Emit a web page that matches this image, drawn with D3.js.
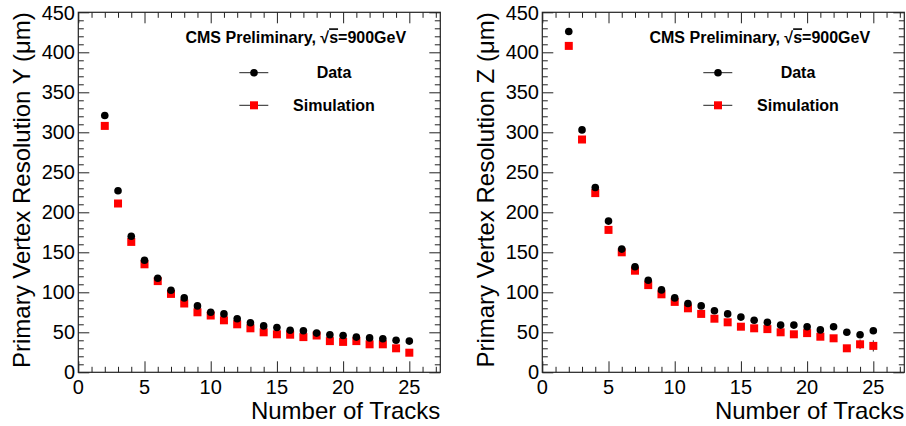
<!DOCTYPE html>
<html>
<head>
<meta charset="utf-8">
<script src="https://cdn.jsdelivr.net/npm/d3@7/dist/d3.min.js"></script>
<style>
  html, body { margin: 0; padding: 0; background: #fff; }
  svg { display: block; }
  text { font-family: "Liberation Sans", Arial, Helvetica, sans-serif; fill: #000; }
</style>
</head>
<body>
<svg id="chart" width="906" height="426"></svg>
<script>
// ---- data ----
const nTracks = [2,3,4,5,6,7,8,9,10,11,12,13,14,15,16,17,18,19,20,21,22,23,24,25];

const resYData = [321,227,170,140,117.5,102.5,93,83,75,73,67,62,58,56,52.5,52,49,47,46,44,43,42,40,39];
const resYSim  = [308,211,163,135,114,98,86,75,71,65,60,55,50,47.5,47,44,46,39,38,39,35,35,30,24.5];
const resYDataErr = [3,2,2,1,1,1,1,1,1,1,1,1,1,1,1,1,1,1,1,1,1,1,2,2];
const resYSimErr  = [2,2,1,1,1,1,1,1,1,1,1,1,1,1,1,1,1,1,1,1,1,2,2,3];

const resZData = [426,303,231,189,154,132,115,103,93,86,83,77,73,69,65,62.5,59,59,57,53,57,50,47,52];
const resZSim  = [408,291,224,178,150,127,109,97.5,88,80,73,67,62.5,57,55,54,50,47.5,49,44.5,42.5,30,35,33];
const resZDataErr = [3,2,2,1,1,1,1,1,1,1,1,1,1,1,1,1,1,1,1,2,2,2,3,3];
const resZSimErr  = [2,2,1,1,1,1,1,1,1,1,1,1,1,1,1,1,1,1,2,2,2,3,6,7];

const xMajorTicks = [0,5,10,15,20,25];
const yMajorTicks = [0,50,100,150,200,250,300,350,400,450];
const xTitle = "Number of Tracks";
const yTitles = ["Primary Vertex Resolution Y (\u03bcm)", "Primary Vertex Resolution Z (\u03bcm)"];
const legendLabels = ["Data", "Simulation"];

// ---- drawing ----
const svg = d3.select("#chart");
const frameW = 362, frameH = 360, frameTop = 12.3;
const panels = [
  {left: 78.3,  data: resYData, sim: resYSim, dErr: resYDataErr, sErr: resYSimErr, title: yTitles[0]},
  {left: 542.3, data: resZData, sim: resZSim, dErr: resZDataErr, sErr: resZSimErr, title: yTitles[1]}
];

panels.forEach(p => {
  const g = svg.append("g").attr("transform", `translate(${p.left},${frameTop})`);
  const x = d3.scaleLinear().domain([0, 27.34]).range([0, frameW]);
  const y = d3.scaleLinear().domain([0, 450]).range([frameH, 0]);

  const xMinor = d3.range(0, 28, 1);
  const yMinor = d3.range(0, 451, 10);
  const majL = 11, minL = 5.5;

  const bx = g.append("g").attr("transform", `translate(0,${frameH})`)
    .call(d3.axisBottom(x).tickValues(xMinor).tickSizeInner(-minL).tickSizeOuter(0).tickFormat(""));
  bx.selectAll("line").attr("y2", d => xMajorTicks.includes(d) ? -majL : -minL).attr("stroke", "#222");
  bx.select(".domain").remove();
  const tx = g.append("g")
    .call(d3.axisTop(x).tickValues(xMinor).tickSizeInner(-minL).tickSizeOuter(0).tickFormat(""));
  tx.selectAll("line").attr("y2", d => xMajorTicks.includes(d) ? majL : minL).attr("stroke", "#222");
  tx.select(".domain").remove();

  const ly = g.append("g")
    .call(d3.axisLeft(y).tickValues(yMinor).tickSizeInner(-minL).tickSizeOuter(0).tickFormat(""));
  ly.selectAll("line").attr("x2", d => yMajorTicks.includes(d) ? majL : minL).attr("stroke", "#222");
  ly.select(".domain").remove();
  const ry = g.append("g").attr("transform", `translate(${frameW},0)`)
    .call(d3.axisRight(y).tickValues(yMinor).tickSizeInner(-minL).tickSizeOuter(0).tickFormat(""));
  ry.selectAll("line").attr("x2", d => yMajorTicks.includes(d) ? -majL : -minL).attr("stroke", "#222");
  ry.select(".domain").remove();

  // frame
  g.append("rect").attr("x", 0).attr("y", 0).attr("width", frameW).attr("height", frameH)
    .attr("fill", "none").attr("stroke", "#222").attr("stroke-width", 1.2);

  // tick labels
  g.selectAll(".xl").data(xMajorTicks).enter().append("text")
    .attr("x", d => x(d)).attr("y", frameH + 21.7)
    .attr("text-anchor", "middle").attr("font-size", 20).text(d => d);
  g.selectAll(".yl").data(yMajorTicks).enter().append("text")
    .attr("x", -3.3).attr("y", d => y(d) + 7.2)
    .attr("text-anchor", "end").attr("font-size", 20).text(d => d);

  // axis titles
  g.append("text").attr("x", frameW).attr("y", 407.2)
    .attr("text-anchor", "end").attr("font-size", 24).text(xTitle);
  g.append("text").attr("transform", `translate(${-48.8},0) rotate(-90)`)
    .attr("text-anchor", "end").attr("font-size", 24).text(p.title);

  // error bars
  const eg = g.append("g").attr("stroke", "#333").attr("stroke-width", 1);
  nTracks.forEach((n, i) => {
    eg.append("line").attr("x1", x(n)).attr("x2", x(n))
      .attr("y1", y(p.sim[i] - p.sErr[i])).attr("y2", y(p.sim[i] + p.sErr[i]));
    eg.append("line").attr("x1", x(n)).attr("x2", x(n))
      .attr("y1", y(p.data[i] - p.dErr[i])).attr("y2", y(p.data[i] + p.dErr[i]));
  });

  // markers
  g.selectAll(".sim").data(nTracks).enter().append("rect")
    .attr("x", d => x(d) - 4).attr("y", (d, i) => y(p.sim[i]) - 4)
    .attr("width", 8).attr("height", 8).attr("fill", "#ff0000");
  g.selectAll(".dat").data(nTracks).enter().append("circle")
    .attr("cx", d => x(d)).attr("cy", (d, i) => y(p.data[i]))
    .attr("r", 3.8).attr("fill", "#000");

  // legend
  const t = g.append("text").attr("x", 217.5).attr("y", 31).attr("text-anchor", "middle")
    .attr("font-size", 16).attr("font-weight", "bold");
  t.append("tspan").text("CMS Preliminary, \u221a");
  t.append("tspan").attr("text-decoration", "overline").style("text-decoration", "overline").text("s");
  t.append("tspan").text("=900GeV");

  const legY = [60.4, 93];
  legY.forEach((ly2, k) => {
    g.append("line").attr("x1", 161).attr("x2", 190).attr("y1", ly2).attr("y2", ly2)
      .attr("stroke", "#222").attr("stroke-width", 1);
    if (k === 0) {
      g.append("circle").attr("cx", 175.7).attr("cy", ly2).attr("r", 3.8).attr("fill", "#000");
    } else {
      g.append("rect").attr("x", 171.7).attr("y", ly2 - 4).attr("width", 8).attr("height", 8).attr("fill", "#ff0000");
    }
    g.append("text").attr("x", 255.7).attr("y", ly2 + 5.6).attr("text-anchor", "middle")
      .attr("font-size", 16).attr("font-weight", "bold").text(legendLabels[k]);
  });
});
</script>
</body>
</html>
